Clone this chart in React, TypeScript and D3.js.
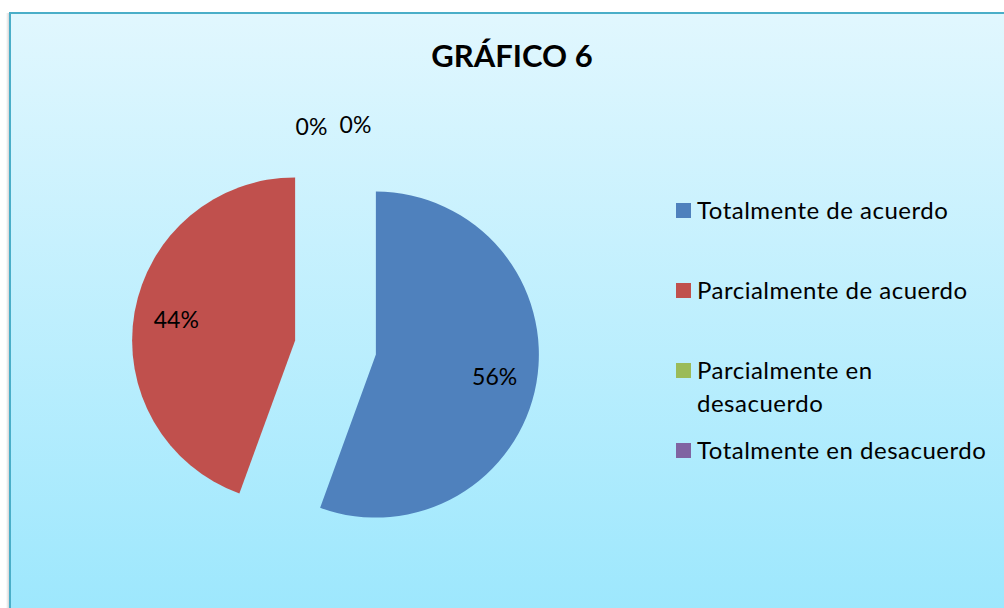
import React from "react";
import * as d3 from "d3";

const categories = [
  "Totalmente de acuerdo",
  "Parcialmente de acuerdo",
  "Parcialmente en desacuerdo",
  "Totalmente en desacuerdo",
];
const legendLines = [
  ["Totalmente de acuerdo"],
  ["Parcialmente de acuerdo"],
  ["Parcialmente en", "desacuerdo"],
  ["Totalmente en desacuerdo"],
];
const values = [5, 4, 0, 0];
const colors = ["#4f81bd", "#c0504d", "#9bbb59", "#8064a2"];
const title = "GRÁFICO 6";

const W = 1004;
const H = 608;
const FONT = "Lato, 'Open Sans', sans-serif";

export default function App() {
  const cx = 335.5;
  const cy = 347.5;
  const r = 163;
  const explode = 41;
  const pie = d3.pie<number>().sort(null).value((d) => d)(values);
  const arc = d3.arc<d3.PieArcDatum<number>>().innerRadius(0).outerRadius(r);
  const total = d3.sum(values);
  const fmt = (v: number) => `${Math.round((v / total) * 100)}%`;

  const legendY = [219, 299, 379, 459];
  const zeroIdx = values.map((v, i) => (v === 0 ? i : -1)).filter((i) => i >= 0);

  return (
    <svg
      width={W}
      height={H}
      style={{ position: "absolute", left: 0, top: 0 }}
      xmlns="http://www.w3.org/2000/svg"
    >
      <defs>
        <linearGradient id="bg" x1="0" y1="0" x2="0" y2="1">
          <stop offset="0" stopColor="#e1f7fe" />
          <stop offset="1" stopColor="#9ce7fd" />
        </linearGradient>
        <linearGradient id="sh" x1="0" y1="0" x2="1" y2="0">
          <stop offset="0" stopColor="#ffffff" />
          <stop offset="1" stopColor="#c8c8c8" />
        </linearGradient>
      </defs>
      <rect x={0} y={0} width={W} height={H} fill="#ffffff" />
      <rect x={6} y={13} width={4} height={H} fill="url(#sh)" />
      <rect x={10} y={13} width={W} height={H} fill="url(#bg)" stroke="#4aaec8" strokeWidth={2} />
      <text
        x={512}
        y={67}
        textAnchor="middle"
        fontFamily={FONT}
        fontWeight="bold"
        fontSize={31}
        fill="#000"
      >
        {title}
      </text>
      {pie.map((p, i) => {
        if (p.value === 0) return null;
        const mid = (p.startAngle + p.endAngle) / 2;
        const ox = cx + Math.sin(mid) * explode;
        const oy = cy - Math.cos(mid) * explode;
        const [lx, ly] = [Math.sin(mid) * r * 0.74, -Math.cos(mid) * r * 0.74];
        return (
          <g key={i} transform={`translate(${ox},${oy})`}>
            <path d={arc(p) || ""} fill={colors[i]} />
            <text
              x={lx}
              y={ly}
              textAnchor="middle"
              dominantBaseline="central"
              fontFamily={FONT}
              fontSize={23}
              fill="#000"
            >
              {fmt(p.value)}
            </text>
          </g>
        );
      })}
      {zeroIdx.map((i, k) => {
        const p = pie[i];
        const rr = r + explode + 18;
        const x = cx + Math.sin(p.startAngle) * rr + (k === 0 ? -24 : 20);
        const y = cy - Math.cos(p.startAngle) * rr - (k === 0 ? 0 : 2);
        return (
          <text
            key={i}
            x={x}
            y={y}
            textAnchor="middle"
            dominantBaseline="central"
            fontFamily={FONT}
            fontSize={23}
            fill="#000"
          >
            {fmt(p.value)}
          </text>
        );
      })}
      {categories.map((c, i) => (
        <g key={c}>
          <rect x={676} y={legendY[i] - 16} width={15} height={15} fill={colors[i]} />
          {legendLines[i].map((line, j) => (
            <text
              key={j}
              x={697}
              y={legendY[i] + j * 33}
              fontFamily={FONT}
              fontSize={24}
              letterSpacing={0.5}
              fill="#000"
            >
              {line}
            </text>
          ))}
        </g>
      ))}
    </svg>
  );
}
